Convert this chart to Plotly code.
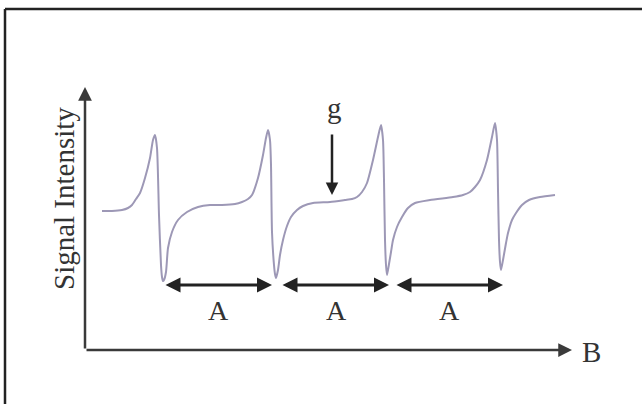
import plotly.graph_objects as go

# Magnetic field (arbitrary units) and signal intensity
field_B = [17, 27, 37, 43, 47, 51, 55, 60, 65, 68, 70, 72, 74, 76, 77, 78, 79, 81, 83, 87, 93, 102,
           113, 125, 137, 150, 157, 163, 167, 173, 178, 181, 183, 185, 186, 187, 189, 190, 191,
           193, 195, 198, 202, 206, 212, 218, 228, 245, 260, 267, 272, 277, 282, 288, 293, 296, 298,
           299, 300, 301, 302, 304, 306, 308, 312, 317, 323, 330, 345, 368, 378, 385, 390, 395, 402, 407,
           410, 412, 413, 414, 415, 416, 418, 421, 423, 427, 431, 437, 444, 455, 470]
signal = [139, 139, 140, 142, 145, 151, 157, 172, 192, 210, 215, 202, 135, 85, 73, 69, 70, 78, 102, 118, 130, 138,
          143, 145, 145, 146, 148, 151, 155, 172, 195, 212, 220, 210, 185, 118, 85, 76, 72,
          80, 95, 110, 124, 133, 140, 144, 147, 148, 150, 151, 153, 158, 167, 190, 213, 225, 210,
          170, 110, 85, 75, 86, 98, 110, 123, 133, 142, 147, 150, 153, 155, 158, 163, 170, 190, 213,
          227, 210, 160, 110, 88, 80, 90, 107, 117, 130, 137, 145, 150, 153, 155]

# Hyperfine splitting markers (A) between successive line minima
split_start = [79, 196, 310]
split_end = [187, 304, 418]
split_level = 65
split_label_B = [133, 251, 364]
split_labels = ["A", "A", "A"]

axis_color = "#3a3a3a"
text_color = "#333333"
font_family = "Liberation Serif"

fig = go.Figure()
fig.add_trace(go.Scatter(
    x=field_B, y=signal, mode="lines",
    line=dict(color="#9d98b6", width=2, shape="spline", smoothing=0.6),
    hoverinfo="skip", showlegend=False,
))

annotations = []
# Coordinate axes with arrowheads
annotations.append(dict(x=0, y=263, ax=0, ay=0, xref="x", yref="y", axref="x", ayref="y",
                        text="", showarrow=True, arrowhead=2, arrowsize=1.1, arrowwidth=2.5,
                        arrowcolor=axis_color))
annotations.append(dict(x=487, y=0, ax=0, ay=0, xref="x", yref="y", axref="x", ayref="y",
                        text="", showarrow=True, arrowhead=2, arrowsize=1.1, arrowwidth=2.5,
                        arrowcolor=axis_color))
# Double-headed splitting arrows
for s, e in zip(split_start, split_end):
    annotations.append(dict(x=e, y=split_level, ax=s, ay=split_level, xref="x", yref="y",
                            axref="x", ayref="y", text="", showarrow=True,
                            arrowhead=2, startarrowhead=2, arrowside="end+start",
                            arrowsize=1.0, startarrowsize=1.0, arrowwidth=3,
                            arrowcolor="#222222"))
for xb, lab in zip(split_label_B, split_labels):
    annotations.append(dict(x=xb, y=40, xref="x", yref="y", text=lab, showarrow=False,
                            font=dict(family=font_family, size=28, color=text_color)))
# g-value arrow
annotations.append(dict(x=247, y=155, ax=247, ay=217, xref="x", yref="y", axref="x", ayref="y",
                        text="", showarrow=True, arrowhead=2, arrowsize=1.0, arrowwidth=2.5,
                        arrowcolor="#222222"))
annotations.append(dict(x=249, y=242, xref="x", yref="y", text="g", showarrow=False,
                        font=dict(family=font_family, size=29, color=text_color)))
# Axis labels
annotations.append(dict(x=506, y=-2, xref="x", yref="y", text="B", showarrow=False,
                        font=dict(family=font_family, size=29, color=text_color)))
annotations.append(dict(x=-21, y=151, xref="x", yref="y", text="Signal Intensity",
                        showarrow=False, textangle=-90,
                        font=dict(family=font_family, size=29, color=text_color)))

shapes = [
    dict(type="line", xref="paper", yref="paper", x0=5 / 642, x1=1.01, y0=1 - 9 / 404, y1=1 - 9 / 404,
         line=dict(color="#222222", width=2.5)),
    dict(type="line", xref="paper", yref="paper", x0=5 / 642, x1=5 / 642, y0=-0.01, y1=1 - 9 / 404,
         line=dict(color="#222222", width=2.5)),
]

fig.update_layout(
    width=642, height=404,
    margin=dict(l=0, r=0, t=0, b=0),
    paper_bgcolor="white", plot_bgcolor="white",
    xaxis=dict(range=[-85, 557], visible=False, fixedrange=True),
    yaxis=dict(range=[-54, 350], visible=False, fixedrange=True),
    annotations=annotations, shapes=shapes,
    showlegend=False,
)

fig.write_html("out.html", config={"displayModeBar": False},
               post_script="document.body.style.margin='0px';document.body.style.overflow='hidden';")
